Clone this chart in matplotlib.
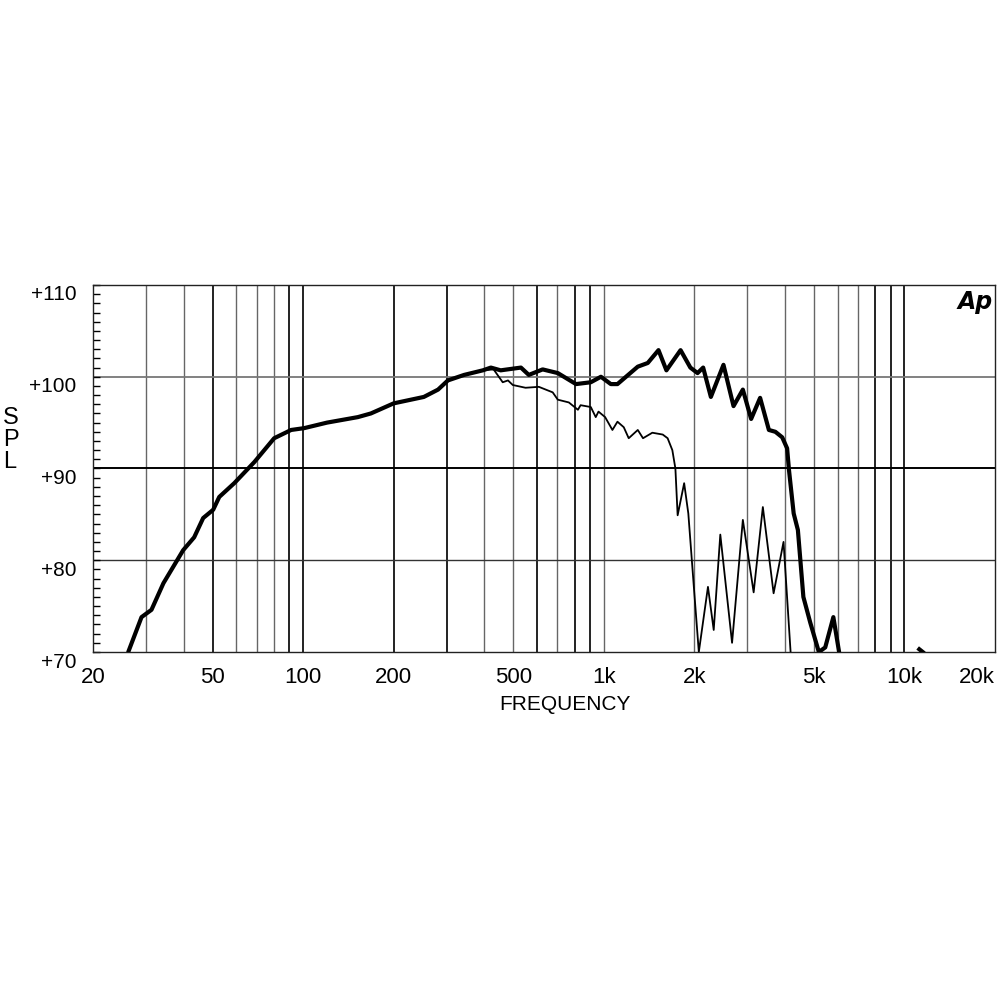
import matplotlib
matplotlib.use("Agg")
import matplotlib.pyplot as plt
import matplotlib.transforms as mtransforms
import numpy as np

plt.rcParams['font.family'] = ['Liberation Sans Narrow', 'Liberation Sans', 'DejaVu Sans']

# on-axis response (thick)
freq_on = [26.2, 29.0, 31.3, 34.3, 39.9, 43.4, 46.5, 50.2, 52.6, 59.0, 68.8, 80.1,
           91.2, 100.8, 120, 152, 168, 200, 252, 281, 303, 343, 396, 421, 454, 530,
           563, 626, 703, 808, 905, 978, 1055, 1110, 1297, 1400, 1520, 1615, 1800,
           1940, 2050, 2140, 2270, 2500, 2700, 2900, 3090, 3310, 3540, 3720, 3920,
           4070, 4130, 4280, 4420, 4610, 4860, 5190, 5450, 5800, 6060]
spl_on = [70.0, 73.8, 74.6, 77.5, 81.1, 82.5, 84.6, 85.5, 86.9, 88.4, 90.7, 93.3,
          94.2, 94.4, 95.0, 95.6, 96.0, 97.1, 97.8, 98.6, 99.6, 100.2, 100.7, 101.0,
          100.7, 101.0, 100.2, 100.8, 100.4, 99.2, 99.4, 100.0, 99.2, 99.2, 101.1,
          101.5, 102.9, 100.7, 102.9, 101.0, 100.4, 101.0, 97.8, 101.3, 96.8, 98.6,
          95.4, 97.7, 94.2, 94.0, 93.4, 92.2, 89.8, 85.1, 83.3, 76.0, 73.2, 70.0,
          70.5, 73.8, 70.0]

# off-axis response (thin)
freq_off = [396, 430, 461, 480, 498, 549, 608, 676, 703, 765, 820, 837, 905, 940,
            960, 1010, 1068, 1110, 1165, 1210, 1297, 1350, 1450, 1570, 1630, 1690,
            1730, 1760, 1850, 1910, 2000, 2070, 2220, 2320, 2440, 2670, 2900, 3150,
            3380, 3670, 3960, 4180]
spl_off = [100.7, 100.8, 99.4, 99.6, 99.1, 98.8, 98.9, 98.3, 97.5, 97.2, 96.4, 96.9,
           96.7, 95.6, 96.2, 95.6, 94.2, 95.1, 94.5, 93.3, 94.2, 93.3, 93.9, 93.7,
           93.3, 92.0, 90.0, 84.9, 88.4, 85.1, 76.4, 70.0, 77.1, 72.4, 82.8, 71.0,
           84.4, 76.5, 85.8, 76.4, 82.0, 70.0]

# stray blip near 11k
freq_blip = [11200, 11500]
spl_blip = [70.3, 70.0]

x_ticks = [20, 50, 100, 200, 500, 1000, 2000, 5000, 10000, 20000]
x_labels = ['20', '50', '100', '200', '500', '1k', '2k', '5k', '10k', '20k']
y_ticks = [70, 80, 90, 100, 110]
y_labels = ['+70', '+80', '+90', '+100', '+110']

fig = plt.figure(figsize=(10, 10), dpi=100)
ax = fig.add_axes([0.093, 0.348, 0.902, 0.367])
ax.set_xscale('log')
ax.set_xlim(20, 20000)
ax.set_ylim(70, 110)

# grid
dark = [50, 90, 100, 200, 300, 600, 800, 900, 8000, 9000]
for dec in [10, 100, 1000]:
    for m in range(1, 10):
        f = dec * m
        if f <= 20 or f > 10000:
            continue
        if f in dark:
            ax.axvline(f, color='#111111', lw=1.3, zorder=1)
        else:
            ax.axvline(f, color='#666666', lw=1.0, zorder=1)
ax.axvline(10000, color='#111111', lw=1.3, zorder=1)
ax.axhline(80, color='#333333', lw=1.0, zorder=1)
ax.axhline(90, color='#000000', lw=1.4, zorder=1)
ax.axhline(100, color='#777777', lw=1.3, zorder=1)

ax.plot(freq_off, spl_off, color='black', lw=1.3, zorder=3)
ax.plot(freq_on, spl_on, color='black', lw=3.0, zorder=4,
        solid_joinstyle='round', solid_capstyle='round')
ax.plot(freq_blip, spl_blip, color='black', lw=3.0, zorder=4)

for s in ax.spines.values():
    s.set_color('#222222')
    s.set_linewidth(1.0)

ax.set_xticks(x_ticks)
ax.set_xticklabels(x_labels)
ax.xaxis.set_minor_locator(matplotlib.ticker.NullLocator())
ax.tick_params(axis='x', which='both', length=0, pad=11, labelsize=16)
ax.get_xticklabels()[-1].set_horizontalalignment('right')

ax.set_yticks(y_ticks)
ax.set_yticklabels(y_labels)
ax.set_yticks(np.arange(70, 111, 1), minor=True)
ax.tick_params(axis='y', which='both', direction='in', length=5, width=1.0,
               pad=12, labelsize=15)
off = mtransforms.ScaledTranslation(0, -8 / 100, fig.dpi_scale_trans)
for lab in ax.get_yticklabels():
    lab.set_transform(lab.get_transform() + off)

ax.text(0.978, 0.955, 'Ap', transform=ax.transAxes, ha='center', va='center',
        fontsize=17, fontweight='bold', style='italic', family='DejaVu Sans')

fig.text(0.565, 0.295, 'FREQUENCY', ha='center', va='center', fontsize=15)
fig.text(0.003, 0.56, 'S\nP\nL', ha='left', va='center', fontsize=17,
         linespacing=1.0)

fig.savefig('out.png', dpi=100, facecolor='white')
